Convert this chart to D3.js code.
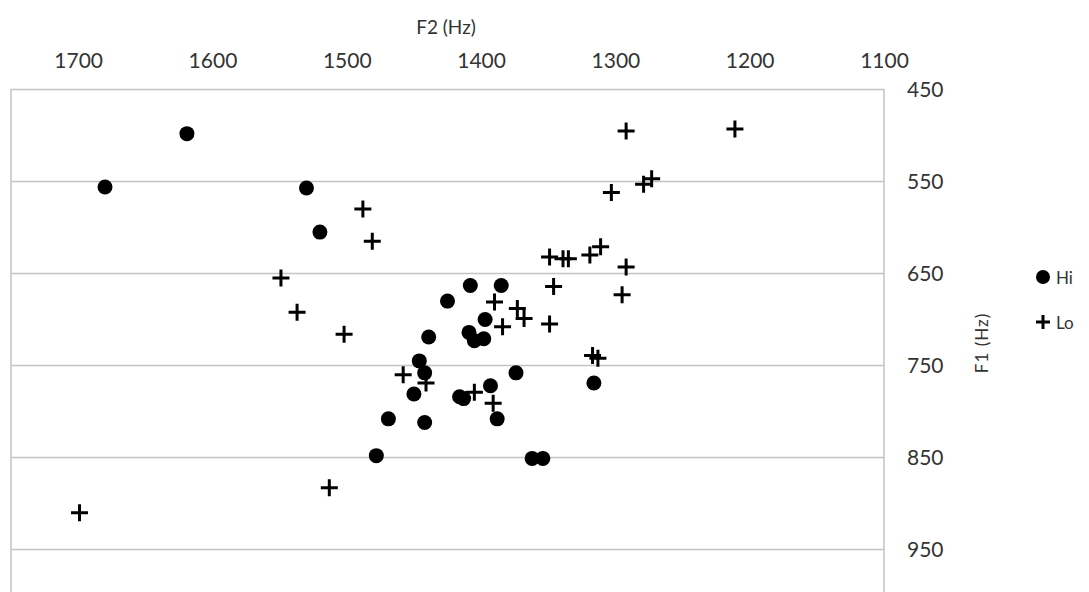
<!DOCTYPE html>
<html>
<head>
<meta charset="utf-8">
<script src="https://cdn.jsdelivr.net/npm/d3@7"></script>
<style>
  html, body { margin: 0; padding: 0; background: #fff; }
  svg { display: block; }
  text { font-family: Lato, "Open Sans", sans-serif; fill: #333; }
</style>
</head>
<body>
<svg id="chart" width="1089" height="592"></svg>
<script>
// Vowel formant measurements: F2 (x) and F1 (y), both in Hz
const hiF2 = [1619, 1680, 1530, 1520, 1408, 1385, 1425, 1397, 1439, 1409, 1405, 1398, 1446,
              1442, 1374, 1450, 1416, 1413, 1393, 1469, 1442, 1388, 1478, 1362, 1354, 1316];
const hiF1 = [498, 556, 557, 605, 663, 663, 680, 700, 719, 714, 723, 721, 745,
              758, 758, 781, 784, 786, 772, 808, 812, 808, 848, 851, 851, 769];

const loF2 = [1292, 1211, 1303, 1279, 1273, 1488, 1481, 1549, 1537, 1502, 1349, 1339, 1335,
              1319, 1311, 1292, 1346, 1295, 1390, 1373, 1368, 1384, 1349, 1458, 1441, 1405,
              1391, 1317, 1313, 1513, 1699];
const loF1 = [495, 493, 562, 553, 547, 580, 615, 655, 692, 716, 632, 634, 634,
              630, 621, 643, 664, 673, 681, 688, 699, 708, 705, 760, 769, 779,
              791, 739, 742, 883, 910];

const f2Ticks = [1700, 1600, 1500, 1400, 1300, 1200, 1100];
const f1Ticks = [450, 550, 650, 750, 850, 950];
const seriesNames = ["Hi", "Lo"];

const svg = d3.select("#chart");

const plot = { left: 11, right: 884, top: 89.5 };

// Both axes run in reverse: F2 falls to the right, F1 grows downward
const x = d3.scaleLinear().domain([1750, 1100]).range([plot.left, plot.right]);
const y = d3.scaleLinear().domain([450, 1000]).range([plot.top, plot.top + 550 * 0.92]);

// Horizontal gridlines
svg.append("g")
  .selectAll("line")
  .data(f1Ticks.slice(1))
  .join("line")
  .attr("x1", plot.left).attr("x2", plot.right)
  .attr("y1", d => y(d)).attr("y2", d => y(d))
  .attr("stroke", "#c4c4c4").attr("stroke-width", 1.5);

// Plot frame (top, left and right edges)
svg.append("path")
  .attr("d", `M${plot.left},${y(1000)}V${plot.top}H${plot.right}V${y(1000)}`)
  .attr("fill", "none").attr("stroke", "#c4c4c4").attr("stroke-width", 1.5);

// F2 axis along the top
const xAxis = svg.append("g")
  .attr("transform", `translate(0,${plot.top - 22})`)
  .call(d3.axisTop(x).tickValues(f2Ticks).tickSize(0).tickPadding(0).tickFormat(d3.format("d")));
xAxis.select(".domain").remove();
xAxis.selectAll("text").attr("font-size", 21).attr("font-family", "Lato, sans-serif").attr("fill", "#333");

// F1 axis on the right
const yAxis = svg.append("g")
  .attr("transform", `translate(${plot.right},0)`)
  .call(d3.axisRight(y).tickValues(f1Ticks).tickSize(0).tickPadding(23).tickFormat(d3.format("d")));
yAxis.select(".domain").remove();
yAxis.selectAll("text").attr("font-size", 21).attr("font-family", "Lato, sans-serif").attr("fill", "#333");

// Axis titles
svg.append("text")
  .attr("x", 446).attr("y", 26)
  .attr("text-anchor", "middle").attr("dominant-baseline", "central")
  .attr("font-size", 19)
  .text("F2 (Hz)");

svg.append("text")
  .attr("transform", "translate(981,343) rotate(-90)")
  .attr("text-anchor", "middle").attr("dominant-baseline", "central")
  .attr("font-size", 17).attr("letter-spacing", 1)
  .text("F1 (Hz)");

const plusPath = "M-8.5,0H8.5M0,-8.5V8.5";

// Hi series: filled circles
const hiData = hiF2.map((f2, i) => ({ f2, f1: hiF1[i] }));
svg.append("g")
  .selectAll("circle")
  .data(hiData)
  .join("circle")
  .attr("cx", d => x(d.f2)).attr("cy", d => y(d.f1))
  .attr("r", 7.5).attr("fill", "#000");

// Lo series: plus signs
const loData = loF2.map((f2, i) => ({ f2, f1: loF1[i] }));
svg.append("g")
  .selectAll("path")
  .data(loData)
  .join("path")
  .attr("transform", d => `translate(${x(d.f2)},${y(d.f1)})`)
  .attr("d", plusPath)
  .attr("stroke", "#000").attr("stroke-width", 3).attr("fill", "none");

// Legend
const legend = svg.append("g").attr("transform", "translate(1043,277)");
const item = legend.selectAll("g")
  .data(seriesNames)
  .join("g")
  .attr("transform", (d, i) => `translate(0,${i * 45})`);
item.filter((d, i) => i === 0).append("circle").attr("r", 7).attr("fill", "#000");
item.filter((d, i) => i === 1).append("path")
  .attr("d", "M-7,0H7M0,-7V7").attr("stroke", "#000").attr("stroke-width", 3);
item.append("text")
  .attr("x", 13).attr("dominant-baseline", "central")
  .attr("font-size", 17)
  .text(d => d);
</script>
</body>
</html>
